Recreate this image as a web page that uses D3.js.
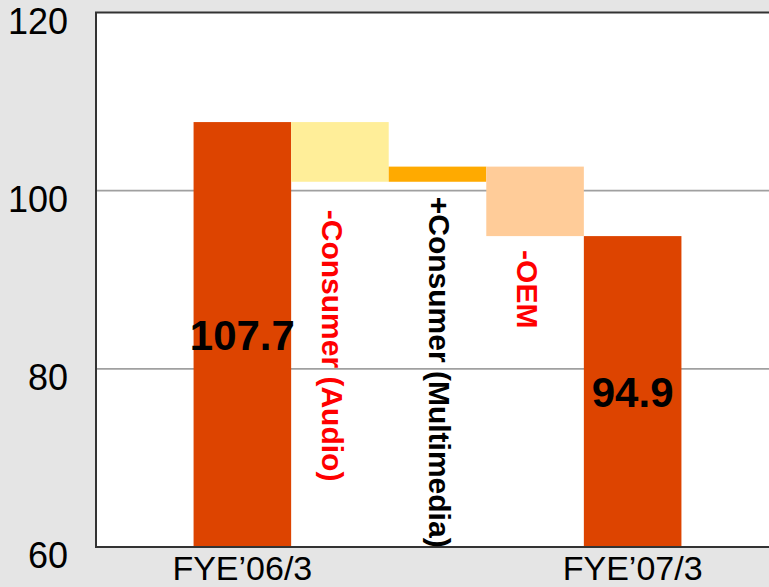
<!DOCTYPE html>
<html>
<head>
<meta charset="utf-8">
<script src="https://cdn.jsdelivr.net/npm/d3@7"></script>
<style>
  html, body { margin: 0; padding: 0; background: #E5E5E5; }
  svg { display: block; }
  text { font-family: "Liberation Sans", Arial, sans-serif; }
</style>
</head>
<body>
<div id="chart"></div>
<script>
// ---- data ----
const categories = ["FYE\u201906/3", "-Consumer (Audio)", "+Consumer (Multimedia)", "-OEM", "FYE\u201907/3"];
const kinds = ["total", "delta", "delta", "delta", "total"];
const values = [107.7, -6.7, 1.7, -7.8, 94.9];
const totalLabels = ["107.7", "94.9"];
const yTicks = [60, 80, 100, 120];
const gridValues = [80, 100];

// ---- styles / layout ----
const W = 769, H = 587;
const plot = { left: 96, top: 12.5, bottom: 547, right: 779 };
const fillColors = ["#DD4400", "#FFEE99", "#FFAA00", "#FFCC99", "#DD4400"];
const deltaLabelDx = [0, -7, 2, -7, 0];
const deltaLabelGap = [0, 28, 15, 14, 0];

// build waterfall segments
let running = 0;
const segs = categories.map((c, i) => {
  let lo, hi;
  if (kinds[i] === "total") { running = values[i]; lo = 60; hi = values[i]; }
  else { const s = running; running = s + values[i]; lo = Math.min(s, running); hi = Math.max(s, running); }
  return { cat: c, kind: kinds[i], value: values[i], lo, hi, color: fillColors[i], i };
});

const svg = d3.select("#chart").append("svg").attr("width", W).attr("height", H);
svg.append("rect").attr("width", W).attr("height", H).attr("fill", "#E5E5E5");

const x = d3.scaleBand()
  .domain(["_padL", ...categories, "_padR"])
  .range([plot.left, plot.right])
  .paddingInner(0).paddingOuter(0);
const y = d3.scaleLinear().domain([60, 120]).range([plot.bottom, plot.top]);

// plot area
svg.append("rect")
  .attr("x", plot.left).attr("y", plot.top)
  .attr("width", plot.right - plot.left).attr("height", plot.bottom - plot.top)
  .attr("fill", "#FFFFFF");

// gridlines
svg.append("g").selectAll("line").data(gridValues).join("line")
  .attr("x1", plot.left).attr("x2", plot.right)
  .attr("y1", d => y(d)).attr("y2", d => y(d))
  .attr("stroke", "#A0A0A0").attr("stroke-width", 1.6);

// bars
svg.append("g").selectAll("rect").data(segs).join("rect")
  .attr("x", d => x(d.cat))
  .attr("width", x.bandwidth())
  .attr("y", d => y(d.hi))
  .attr("height", d => y(d.lo) - y(d.hi))
  .attr("fill", d => d.color);

// borders: left, top, bottom
const border = svg.append("g").attr("stroke", "#333333").attr("stroke-width", 2).attr("fill", "none");
border.append("path").attr("d", `M${plot.right},${plot.top}H${plot.left}V${plot.bottom}H${plot.right}`);

// y tick labels
svg.append("g").selectAll("text").data(yTicks).join("text")
  .attr("x", 68).attr("y", d => y(d) + 21)
  .attr("text-anchor", "end")
  .attr("font-size", 36).attr("fill", "#000")
  .text(d => d);

// category labels for totals
const totals = segs.filter(d => d.kind === "total");
svg.append("g").selectAll("text").data(totals).join("text")
  .attr("x", d => x(d.cat) + x.bandwidth() / 2)
  .attr("y", 580)
  .attr("text-anchor", "middle")
  .attr("font-size", 34).attr("fill", "#000")
  .text(d => d.cat);

// total value labels
svg.append("g").selectAll("text").data(totals).join("text")
  .attr("x", d => x(d.cat) + x.bandwidth() / 2)
  .attr("y", d => (y(d.hi) + y(d.lo)) / 2)
  .attr("dy", "0.36em")
  .attr("text-anchor", "middle")
  .attr("font-size", 42).attr("font-weight", "bold").attr("fill", "#000")
  .text((d, k) => totalLabels[k]);

// rotated delta labels
const deltas = segs.filter(d => d.kind === "delta");
svg.append("g").selectAll("text").data(deltas).join("text")
  .attr("transform", d => `translate(${x(d.cat) + x.bandwidth() / 2 + deltaLabelDx[d.i]},${y(d.lo) + deltaLabelGap[d.i]}) rotate(90)`)
  .attr("dy", "0.36em")
  .attr("text-anchor", "start")
  .attr("font-size", 30).attr("font-weight", "bold")
  .attr("fill", d => d.value < 0 ? "#FF0000" : "#000000")
  .text(d => d.cat);
</script>
</body>
</html>
